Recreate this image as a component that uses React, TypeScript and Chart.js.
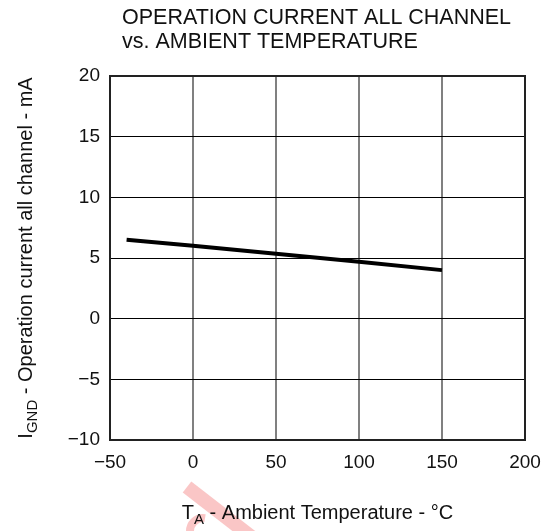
import React, { useEffect, useRef } from "react";
import { Chart, registerables } from "chart.js";

Chart.register(...registerables);

const titleLines = ["OPERATION CURRENT ALL CHANNEL", "vs. AMBIENT TEMPERATURE"];
const tempC = [-40, 0, 50, 100, 150];
const currentMA = [6.5, 6.0, 5.35, 4.7, 4.0];
const xTicks = [-50, 0, 50, 100, 150, 200];
const yTicks = [-10, -5, 0, 5, 10, 15, 20];
const xTitle = [
  { t: "T", sub: false },
  { t: "A", sub: true },
  { t: " - Ambient Temperature - °C", sub: false },
];
const yTitle = [
  { t: "I", sub: false },
  { t: "GND", sub: true },
  { t: " - Operation current all channel - mA", sub: false },
];

const FONT = '"Liberation Sans", Arial, Helvetica, sans-serif';
const TEXT = "#111";

type Seg = { t: string; sub: boolean };

function drawRich(ctx: CanvasRenderingContext2D, segs: Seg[], cx: number, baseY: number, size: number, subSize: number, subShift: number) {
  const widths = segs.map((s) => {
    ctx.font = `${s.sub ? subSize : size}px ${FONT}`;
    return ctx.measureText(s.t).width;
  });
  const total = widths.reduce((a, b) => a + b, 0);
  let x = cx - total / 2;
  ctx.textAlign = "left";
  ctx.textBaseline = "alphabetic";
  ctx.fillStyle = TEXT;
  segs.forEach((s, i) => {
    ctx.font = `${s.sub ? subSize : size}px ${FONT}`;
    ctx.fillText(s.t, x, baseY + (s.sub ? subShift : 0));
    x += widths[i];
  });
}

const decorPlugin = {
  id: "decor",
  beforeDraw(chart: any) {
    const ctx = chart.ctx as CanvasRenderingContext2D;
    ctx.save();
    // faint watermark fragment
    ctx.strokeStyle = "rgba(246,160,160,0.6)";
    ctx.lineCap = "butt";
    ctx.lineWidth = 14;
    ctx.beginPath();
    ctx.moveTo(187, 487);
    ctx.lineTo(258, 542);
    ctx.stroke();
    ctx.lineWidth = 8;
    ctx.beginPath();
    ctx.arc(203, 531, 13, Math.PI * 0.75, Math.PI * 1.55);
    ctx.stroke();
    ctx.restore();
  },
  afterDraw(chart: any) {
    const ctx = chart.ctx as CanvasRenderingContext2D;
    const a = chart.chartArea;
    ctx.save();
    // frame
    ctx.strokeStyle = "#222";
    ctx.lineWidth = 2;
    ctx.strokeRect(a.left, a.top, a.right - a.left, a.bottom - a.top);
    // title
    ctx.fillStyle = TEXT;
    ctx.font = `21.5px ${FONT}`;
    ctx.textAlign = "left";
    ctx.textBaseline = "alphabetic";
    ctx.fillText(titleLines[0], 122, 24);
    ctx.fillText(titleLines[1], 122, 48);
    // x title
    drawRich(ctx, xTitle, (a.left + a.right) / 2, 519, 20, 15, 5);
    // y title
    ctx.translate(32, (a.top + a.bottom) / 2);
    ctx.rotate(-Math.PI / 2);
    drawRich(ctx, yTitle, 0, 0, 20, 15, 5);
    ctx.restore();
  },
};

export default function App() {
  const ref = useRef<HTMLCanvasElement>(null);

  useEffect(() => {
    if (!ref.current) return;
    const fmt = (v: any) => String(v).replace("-", "\u2212");
    const chart = new Chart(ref.current, {
      type: "scatter",
      data: {
        datasets: [
          {
            data: tempC.map((x, i) => ({ x, y: currentMA[i] })),
            showLine: true,
            borderColor: "#000",
            borderWidth: 4,
            pointRadius: 0,
            fill: false,
          },
        ],
      },
      options: {
        animation: false,
        responsive: false,
        events: [],
        layout: { padding: { top: 76, right: 27, left: 0, bottom: 0 } },
        plugins: { legend: { display: false }, tooltip: { enabled: false }, title: { display: false } },
        scales: {
          x: {
            type: "linear",
            min: xTicks[0],
            max: xTicks[xTicks.length - 1],
            afterFit: (s: any) => {
              s.height = 91;
            },
            afterBuildTicks: (s: any) => {
              s.ticks = xTicks.map((v) => ({ value: v }));
            },
            ticks: {
              callback: fmt,
              color: TEXT,
              font: { family: FONT, size: 19 },
              padding: 11,
              maxRotation: 0,
            },
            grid: { color: "#808080", lineWidth: 2, drawTicks: false },
            border: { display: true, color: "#222", width: 2 },
          },
          y: {
            type: "linear",
            min: yTicks[0],
            max: yTicks[yTicks.length - 1],
            afterFit: (s: any) => {
              s.width = 110;
            },
            afterBuildTicks: (s: any) => {
              s.ticks = yTicks.map((v) => ({ value: v }));
            },
            ticks: {
              callback: fmt,
              color: TEXT,
              font: { family: FONT, size: 19 },
              padding: 10,
            },
            grid: { color: "#000", lineWidth: 1, drawTicks: false },
            border: { display: true, color: "#222", width: 2 },
          },
        },
      },
      plugins: [decorPlugin],
    });
    return () => chart.destroy();
  }, []);

  return (
    <div style={{ position: "fixed", left: 0, top: 0, width: 552, height: 531, background: "#fff" }}>
      <canvas ref={ref} width={552} height={531} style={{ display: "block", width: 552, height: 531 }} />
    </div>
  );
}
